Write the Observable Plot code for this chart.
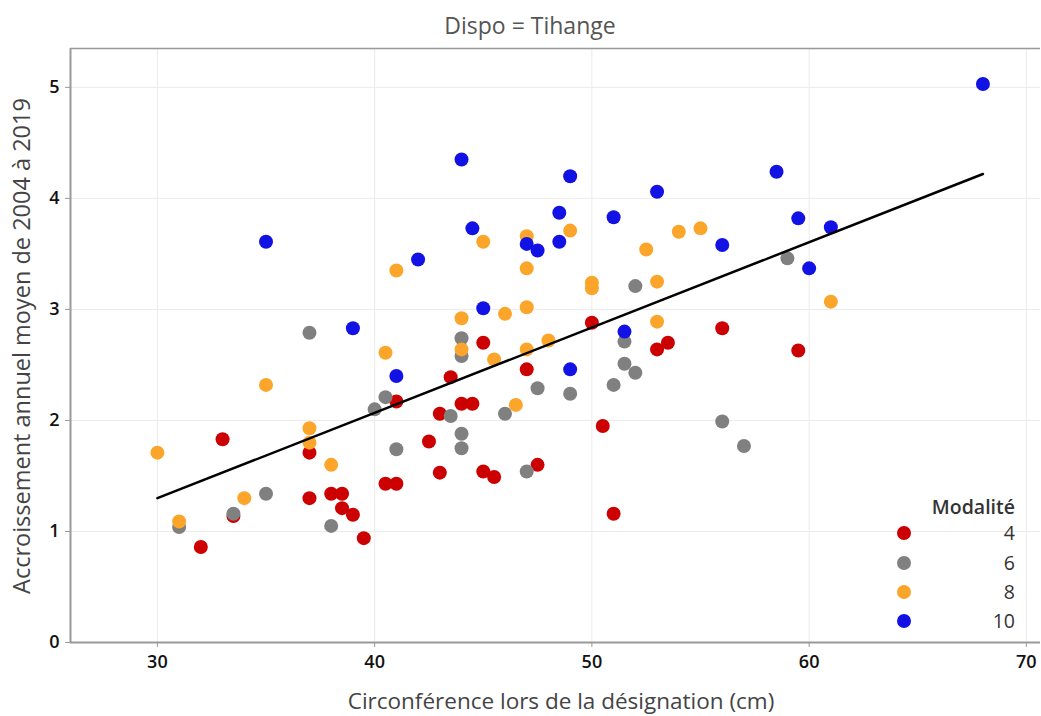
<!DOCTYPE html>
<html>
<head>
<meta charset="utf-8">
<script src="https://cdn.jsdelivr.net/npm/d3@7"></script>
<script src="https://cdn.jsdelivr.net/npm/@observablehq/plot@0.6"></script>
<style>
  html, body { margin: 0; padding: 0; background: #fff; }
  #wrap { position: relative; width: 1041px; height: 716px; font-family: "Open Sans", sans-serif; overflow: hidden; }
  .ov { position: absolute; white-space: nowrap; line-height: 1.15; }
</style>
</head>
<body>
<div id="wrap"></div>
<script>
// ---- data ----
const modalites = ["4", "6", "8", "10"];
const colors = ["#cc0000", "#808080", "#fca52b", "#1212e4"];

const circ4 = [32, 33, 33.5, 37, 37, 38, 38.5, 38.5, 39, 39.5, 40.5, 41, 41, 42.5, 43, 43, 43.5, 44, 44.5, 45, 45, 45.5, 47, 47.5, 50, 50.5, 51, 53, 53.5, 56, 59.5];
const acc4  = [0.86, 1.83, 1.14, 1.71, 1.30, 1.34, 1.34, 1.21, 1.15, 0.94, 1.43, 1.43, 2.17, 1.81, 2.06, 1.53, 2.39, 2.15, 2.15, 2.70, 1.54, 1.49, 2.46, 1.60, 2.88, 1.95, 1.16, 2.64, 2.70, 2.83, 2.63];

const circ6 = [31, 33.5, 35, 37, 38, 40, 40.5, 41, 43.5, 44, 44, 44, 44, 46, 47, 47.5, 49, 51, 51.5, 51.5, 52, 52, 56, 57, 59];
const acc6  = [1.04, 1.16, 1.34, 2.79, 1.05, 2.10, 2.21, 1.74, 2.04, 2.74, 2.58, 1.88, 1.75, 2.06, 1.54, 2.29, 2.24, 2.32, 2.71, 2.51, 3.21, 2.43, 1.99, 1.77, 3.46];

const circ8 = [30, 31, 34, 35, 37, 37, 38, 40.5, 41, 44, 44, 45, 45.5, 46, 46.5, 47, 47, 47, 47, 48, 49, 50, 50, 52.5, 53, 53, 54, 55, 61];
const acc8  = [1.71, 1.09, 1.30, 2.32, 1.93, 1.80, 1.60, 2.61, 3.35, 2.92, 2.64, 3.61, 2.55, 2.96, 2.14, 3.66, 3.37, 3.02, 2.64, 2.72, 3.71, 3.24, 3.19, 3.54, 3.25, 2.89, 3.70, 3.73, 3.07];

const circ10 = [35, 39, 41, 42, 44, 44.5, 45, 47, 47.5, 48.5, 48.5, 49, 49, 51, 51.5, 53, 56, 58.5, 59.5, 60, 61, 68];
const acc10  = [3.61, 2.83, 2.40, 3.45, 4.35, 3.73, 3.01, 3.59, 3.53, 3.87, 3.61, 4.20, 2.46, 3.83, 2.80, 4.06, 3.58, 4.24, 3.82, 3.37, 3.74, 5.03];

// fitted line end points
const fitX = [30, 68];
const fitY = [1.30, 4.22];

const xTicks = [30, 40, 50, 60, 70];
const yTicks = [0, 1, 2, 3, 4, 5];
const xDomain = [26, 70.65];
const yDomain = [0, 5.35];

const titleText = "Dispo = Tihange";
const xTitle = "Circonférence lors de la désignation (cm)";
const yTitle = "Accroissement annuel moyen de 2004 à 2019";
const legendTitle = "Modalité";

// ---- build table ----
const series = [[circ4, acc4], [circ6, acc6], [circ8, acc8], [circ10, acc10]];
const pts = [];
series.forEach(([xs, ys], k) => xs.forEach((x, i) => pts.push({circ: x, acc: ys[i], mod: modalites[k]})));
const fit = fitX.map((x, i) => ({x, y: fitY[i]}));

const chart = Plot.plot({
  width: 1041,
  height: 716,
  marginLeft: 70,
  marginRight: 1,
  marginTop: 48,
  marginBottom: 74,
  style: {fontFamily: "'Open Sans', sans-serif", fontSize: "18px", color: "#111", background: "transparent"},
  x: {domain: xDomain, ticks: xTicks, label: null},
  y: {domain: yDomain, ticks: yTicks, label: null},
  color: {domain: modalites, range: colors},
  marks: [
    Plot.gridX(xTicks, {stroke: "#ebebeb", strokeOpacity: 1, strokeWidth: 1}),
    Plot.gridY(yTicks, {stroke: "#ebebeb", strokeOpacity: 1, strokeWidth: 1}),
    Plot.axisX(xTicks, {tickSize: 5, tickPadding: 8, stroke: "#999", fill: "#111", label: null, fontSize: 18, fontWeight: 600, tickFormat: d => String(d)}),
    Plot.axisY(yTicks, {tickSize: 5, tickPadding: 6, stroke: "#999", fill: "#111", label: null, fontSize: 18, fontWeight: 600, tickFormat: d => String(d)}),
    Plot.ruleY([yDomain[0]], {stroke: "#999", strokeWidth: 2}),
    Plot.ruleY([yDomain[1]], {stroke: "#999", strokeWidth: 1.5}),
    Plot.ruleX([xDomain[0]], {stroke: "#999", strokeWidth: 2}),
    Plot.dot(pts, {x: "circ", y: "acc", fill: "mod", r: 7, stroke: null}),
    Plot.line(fit, {x: "x", y: "y", stroke: "#000", strokeWidth: 2.5})
  ]
});

const wrap = document.getElementById("wrap");
wrap.appendChild(chart);
chart.style.position = "absolute";
chart.style.left = "0px";
chart.style.top = "0px";

function ov(text, css) {
  const d = document.createElement("div");
  d.className = "ov";
  d.textContent = text;
  Object.assign(d.style, css);
  wrap.appendChild(d);
  return d;
}
ov(titleText, {left: "530px", top: "25px", transform: "translate(-50%,-50%)", fontSize: "23px", color: "#555"});
ov(xTitle, {left: "561px", top: "701px", transform: "translate(-50%,-50%)", fontSize: "22.5px", color: "#444"});
ov(yTitle, {left: "22px", top: "346px", transform: "translate(-50%,-50%) rotate(-90deg)", fontSize: "23.5px", color: "#444"});

// legend
ov(legendTitle, {right: "26px", top: "507px", transform: "translateY(-50%)", fontSize: "19.5px", fontWeight: "600", color: "#333"});
const legY = [533, 563, 592, 621];
modalites.forEach((m, i) => {
  const dot = document.createElement("div");
  Object.assign(dot.style, {position: "absolute", left: "897px", top: (legY[i] - 7) + "px", width: "14px", height: "14px", borderRadius: "50%", background: colors[i]});
  wrap.appendChild(dot);
  ov(m, {right: "26px", top: legY[i] + "px", transform: "translateY(-50%)", fontSize: "19.5px", color: "#333"});
});
</script>
</body>
</html>
